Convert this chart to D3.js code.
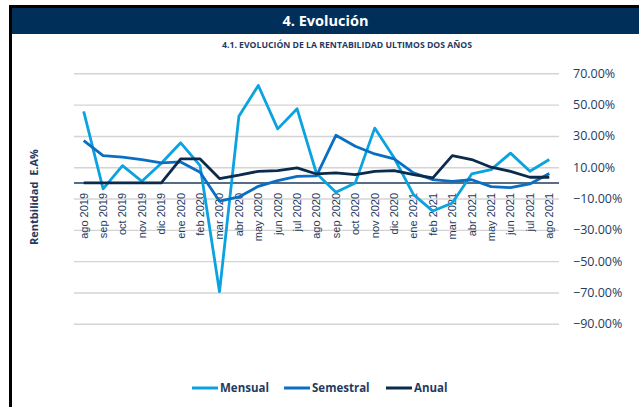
<!DOCTYPE html>
<html>
<head>
<meta charset="utf-8">
<script src="https://cdn.jsdelivr.net/npm/d3@7"></script>
<style>
  html, body { margin: 0; padding: 0; background: #fff; }
  svg { display: block; font-family: "Open Sans", "Noto Sans", sans-serif; }
</style>
</head>
<body>
<div id="chart"></div>
<script>
// meses (eje x)
const meses = ['ago 2019', 'sep 2019', 'oct 2019', 'nov 2019', 'dic 2019', 'ene 2020', 'feb 2020',
  'mar 2020', 'abr 2020', 'may 2020', 'jun 2020', 'jul 2020', 'ago 2020', 'sep 2020', 'oct 2020',
  'nov 2020', 'dic 2020', 'ene 2021', 'feb 2021', 'mar 2021', 'abr 2021', 'may 2021', 'jun 2021',
  'jul 2021', 'ago 2021']

// rentabilidades E.A. en %
const mensual = [45.7, -3.8, 11.0, 1.0, 12.5, 25.6, 11.0, -69.5, 42.6, 62.2, 34.5, 47.3, 6.0,
  -6.0, 0.0, 35.0, 16.0, -7.5, -18.0, -12.8, 5.7, 8.5, 19.0, 7.4, 14.9]
const semestral = [27.0, 17.4, 16.4, 14.9, 12.8, 13.4, 6.8, -11.7, -9.0, -2.2, 1.5, 4.2, 4.5,
  30.4, 23.4, 18.5, 15.3, 6.4, 2.1, 1.0, 2.0, -2.4, -3.0, -0.7, 6.0]
const anual = [0, 0, 0, 0, 0, 15.3, 15.3, 2.8, 4.9, 7.4, 7.8, 9.6, 5.7,
  6.4, 5.3, 7.4, 7.8, 5.3, 3.2, 17.4, 14.9, 10.0, 7.4, 3.6, 3.6]

const yTicks = [70, 50, 30, 10, -10, -30, -50, -70, -90]

const series = [
  { name: 'Mensual', values: mensual, color: '#0AA2DF' },
  { name: 'Semestral', values: semestral, color: '#0A6FC2' },
  { name: 'Anual', values: anual, color: '#0B2B4D' }
]

const width = 639
const height = 407
const navy = '#00305A'
const textColor = '#1F3B5F'

const svg = d3.select('#chart').append('svg')
  .attr('width', width)
  .attr('height', height)

// marco negro
svg.append('rect').attr('x', 9).attr('y', 5).attr('width', width - 9).attr('height', 3).attr('fill', '#000')
svg.append('rect').attr('x', 9).attr('y', 5).attr('width', 3).attr('height', height - 5).attr('fill', '#000')

// encabezado
svg.append('rect').attr('x', 12).attr('y', 8).attr('width', width - 12).attr('height', 26).attr('fill', navy)
svg.append('text')
  .attr('x', 325.5).attr('y', 26)
  .attr('text-anchor', 'middle')
  .attr('fill', '#fff')
  .style('font-size', '14.5px').style('font-weight', 700)
  .text('4. Evolución')

svg.append('text')
  .attr('x', 347).attr('y', 48)
  .attr('text-anchor', 'middle')
  .attr('fill', textColor)
  .attr('textLength', 250).attr('lengthAdjust', 'spacingAndGlyphs')
  .style('font-size', '8.5px').style('font-weight', 700)
  .text('4.1. EVOLUCIÓN DE LA RENTABILIDAD ULTIMOS DOS AÑOS')

// escalas
const plot = { left: 74, right: 559, top: 73.3, bottom: 323.8 }
const x = d3.scaleBand().domain(meses).range([plot.left, plot.right])
const y = d3.scaleLinear().domain([-90, 70]).range([plot.bottom, plot.top])
const cx = d => x(d) + x.bandwidth() / 2

// lineas de la grilla + etiquetas derecha
const yAxis = svg.append('g')
  .attr('transform', `translate(${plot.right},0)`)
  .call(d3.axisRight(y).tickValues(yTicks).tickSize(-(plot.right - plot.left)).tickPadding(14)
    .tickFormat(d => d3.format('.2f')(d) + '%'))
yAxis.select('.domain').remove()
yAxis.selectAll('.tick line').attr('stroke', '#D4D4D4').attr('stroke-width', 1.4)
yAxis.selectAll('.tick text')
  .attr('fill', textColor)
  .style('font-size', '12.5px')
  .style('font-family', '"Open Sans", sans-serif')

// eje x en cero
const xAxis = svg.append('g')
  .attr('transform', `translate(0,${y(0)})`)
  .call(d3.axisBottom(x).tickSize(0).tickPadding(0))
xAxis.select('.domain').remove()
xAxis.selectAll('.tick text')
  .attr('fill', textColor)
  .style('font-size', '11px')
  .attr('text-anchor', 'end')
  .attr('transform', 'rotate(-90)')
  .attr('x', -10).attr('y', 0).attr('dy', '0.35em')

svg.append('line')
  .attr('x1', plot.left).attr('x2', plot.right)
  .attr('y1', y(0)).attr('y2', y(0))
  .attr('stroke', '#1F3B5F').attr('stroke-width', 1.5)

// titulo eje y
svg.append('text')
  .attr('transform', `translate(38,197) rotate(-90)`)
  .attr('text-anchor', 'middle')
  .attr('fill', textColor)
  .style('font-size', '11px').style('font-weight', 700)
  .style('white-space', 'pre')
  .text('Rentbilidad  E.A%')

// series
const line = d3.line().x((d, i) => cx(meses[i])).y(d => y(d))
series.forEach(s => {
  svg.append('path')
    .datum(s.values)
    .attr('d', line)
    .attr('fill', 'none')
    .attr('stroke', s.color)
    .attr('stroke-width', 2.8)
    .attr('stroke-linejoin', 'round')
})

// leyenda
const legendX = [192, 284, 386]
const legend = svg.append('g')
series.forEach((s, i) => {
  const g = legend.append('g').attr('transform', `translate(${legendX[i]},388)`)
  g.append('line').attr('x1', 0).attr('x2', 26).attr('stroke', s.color).attr('stroke-width', 3)
  g.append('text')
    .attr('x', 28).attr('dy', '0.35em')
    .attr('fill', textColor)
    .style('font-size', '11.5px').style('font-weight', 700)
    .text(s.name)
})
</script>
</body>
</html>
